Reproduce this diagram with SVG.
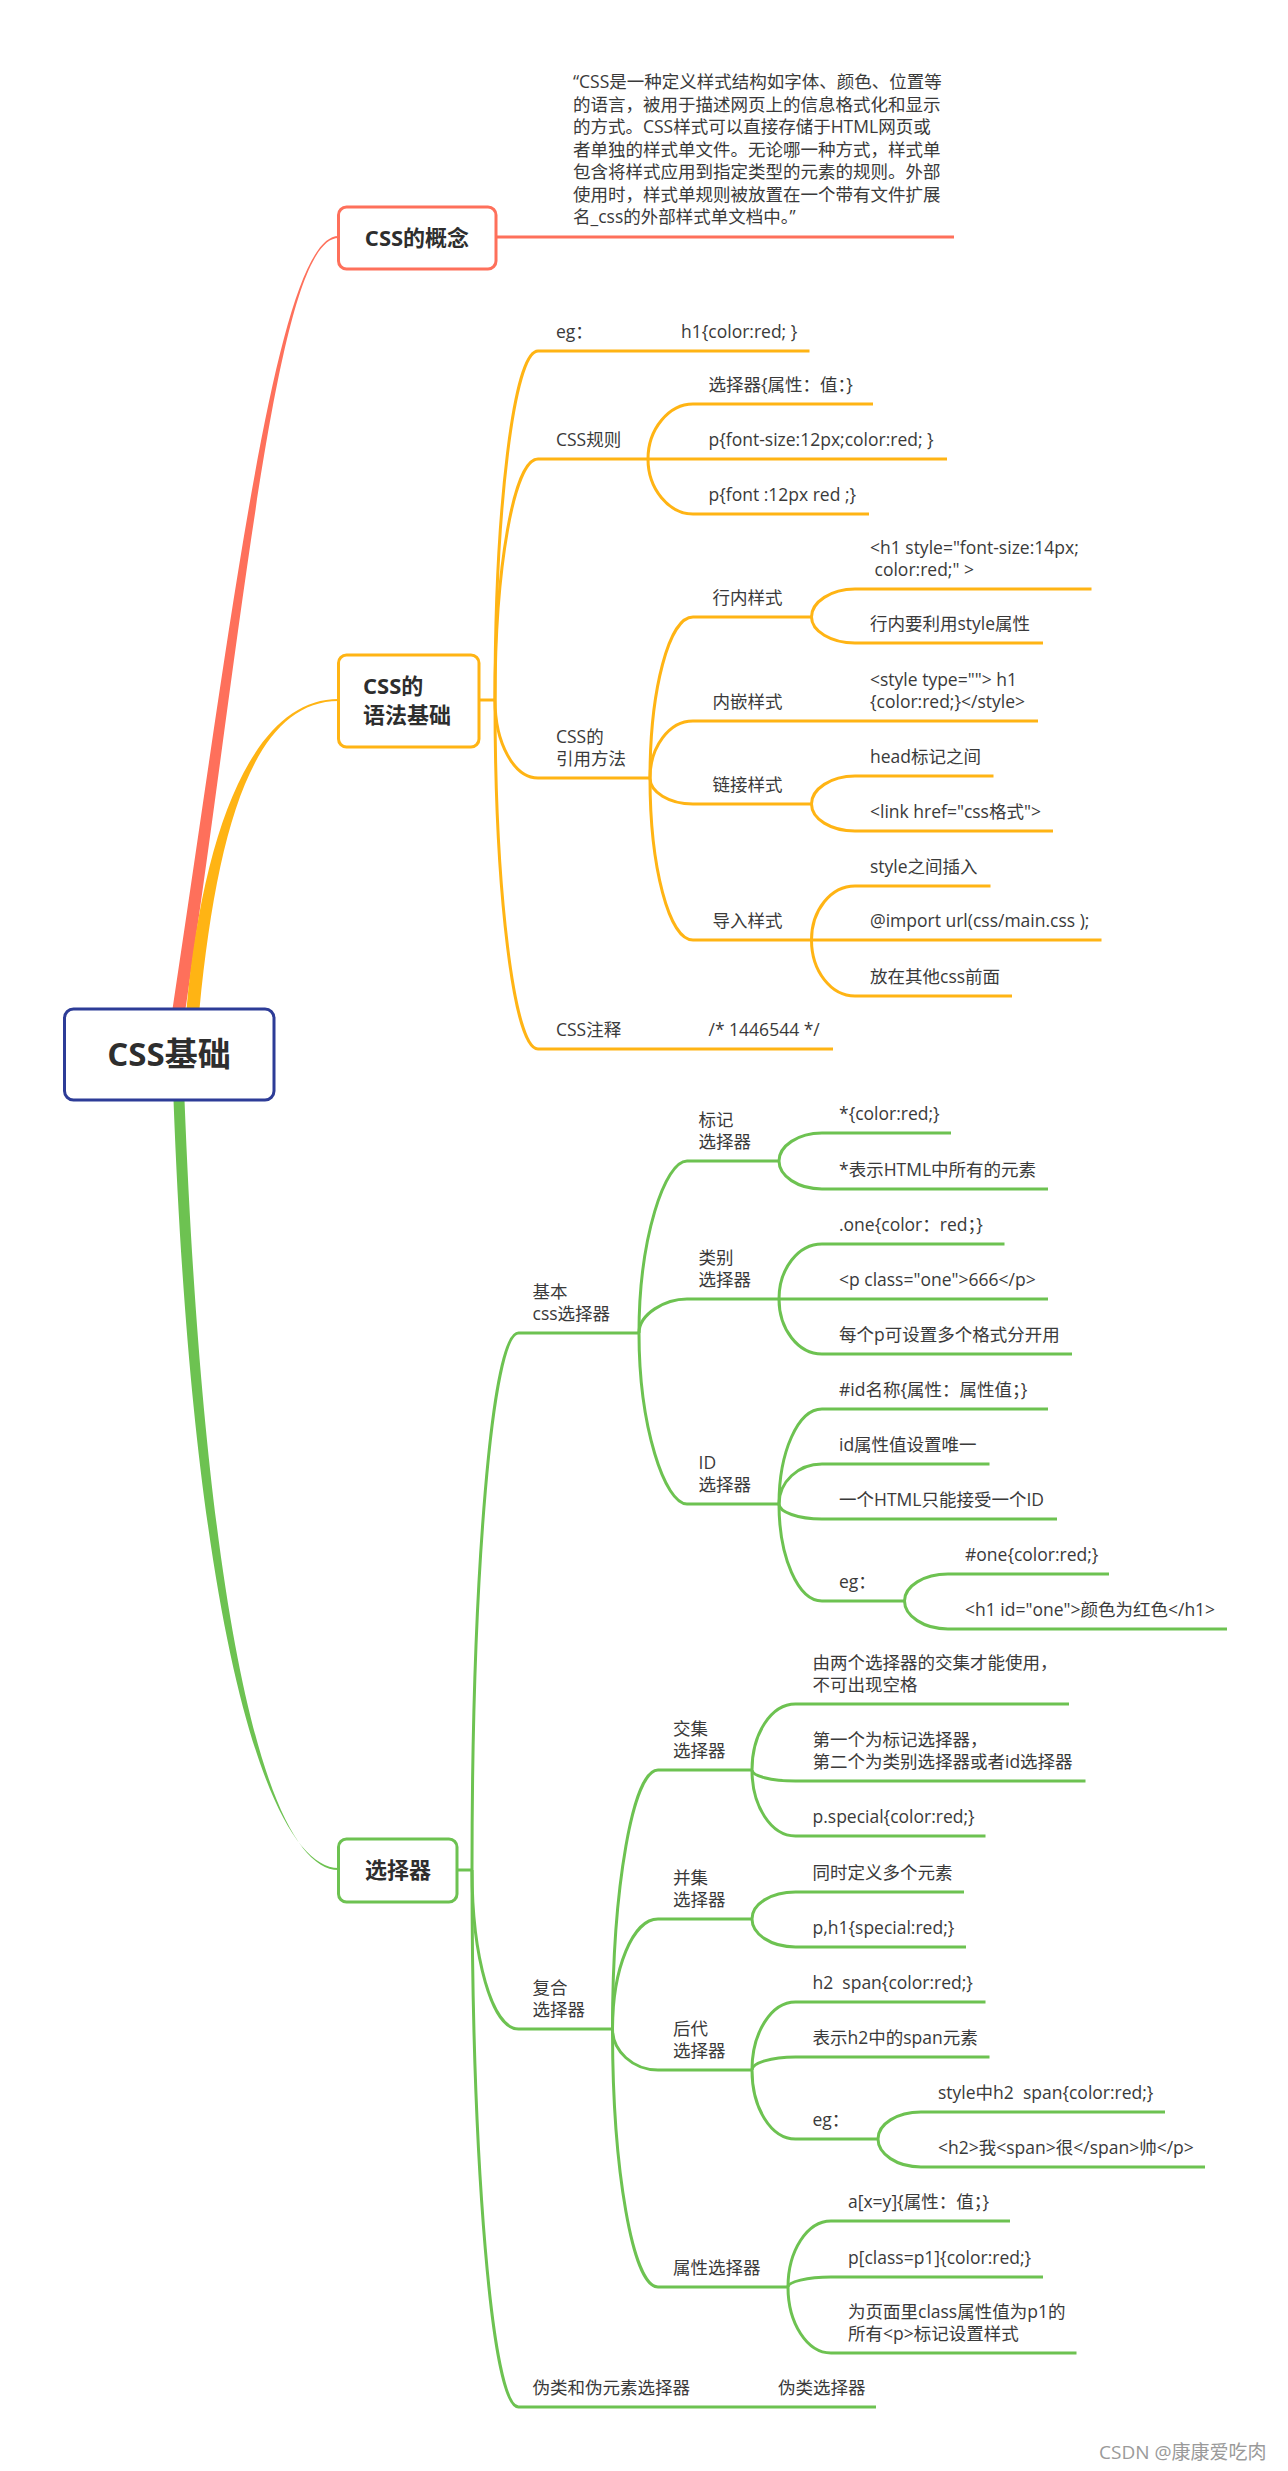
<svg xmlns="http://www.w3.org/2000/svg" width="1288" height="2471" viewBox="0 0 1288 2471">
<style>
text{font-family:"Open Sans","Noto Sans CJK SC",sans-serif;fill:#3a3a3a;white-space:pre}
.t{font-size:17.5px}
.b{font-size:22px;font-weight:bold;fill:#2e2e2e}
.root{font-size:33px;font-weight:bold;fill:#2e2e2e}
.box{fill:#fff;stroke-width:3}
.r{stroke:#FE705B}
.o{stroke:#FFB414}
.g{stroke:#6DC251}
.ln{fill:none;stroke-width:3}
.wm{font-size:19px;fill:#9a9a9a}
</style>
<rect width="1288" height="2471" fill="#fff"/>
<g id="connectors">
  <path d="M172.5 1009 C233 609 277 236 338.5 236 L338.5 238 C277 238 245 609 185.5 1009 Z" fill="#FE705B"/>
  <path d="M186.5 1009 C203 830 253 699 338.5 699 L338.5 701 C253 701 217 830 199.5 1009 Z" fill="#FFB414"/>
  <path d="M173.5 1100 C194 1650 272 1868 338.5 1868 L338.5 1870 C272 1870 206 1650 184.5 1100 Z" fill="#6DC251"/>
  <path class="ln r" d="M496 237 H954" stroke-width="3.5"/>
  <g class="ln o">
    <path d="M479 700 H495"/>
    <path d="M495 700 C495 508 514 351 538 351 H809.5"/>
    <path d="M495 700 C495 568 514 459 538 459 H947"/>
    <path d="M495 700 C495 743 514 778 538 778 H650"/>
    <path d="M495 700 C495 892 514 1049 538 1049 H833"/>
    <path d="M648 459 C648 429 669 404 693 404 H873"/>
    <path d="M648 459 C648 489 669 514 693 514 H869"/>
    <path d="M650 778 C650 690 669 617 693 617 H811.5"/>
    <path d="M650 778 C650 747 669 721 693 721 H1038"/>
    <path d="M650 778 C650 792 669 804 693 804 H811.5"/>
    <path d="M650 778 C650 867 669 940 693 940 H811.5"/>
    <path d="M811.5 617 C811.5 602 831 589 855 589 H1091.5"/>
    <path d="M811.5 617 C811.5 631 831 643 855 643 H1043"/>
    <path d="M811.5 804 C811.5 789 831 776 855 776 H993.5"/>
    <path d="M811.5 804 C811.5 819 831 831 855 831 H1053"/>
    <path d="M811.5 940 C811.5 910 831 886 855 886 H990.5"/>
    <path d="M811.5 940 H1101.5"/>
    <path d="M811.5 940 C811.5 971 831 996 855 996 H1012"/>
  </g>
  <g class="ln g">
    <path d="M457 1870 H472"/>
    <path d="M472 1870 C472 1575 492 1333 518.5 1333 H639"/>
    <path d="M472 1870 C472 1957 492 2029 518.5 2029 H612.5"/>
    <path d="M472 1870 C472 2165 492 2407 518.5 2407 H876"/>
    <path d="M639 1333 C639 1238 665 1161 687 1161 H779"/>
    <path d="M639 1333 C639 1314 665 1299 687 1299 H779"/>
    <path d="M639 1333 C639 1427 665 1504 687 1504 H779"/>
    <path d="M779 1161 C779 1146 798 1133 822 1133 H951"/>
    <path d="M779 1161 C779 1176 798 1189 822 1189 H1048"/>
    <path d="M779 1299 C779 1269 798 1244 822 1244 H1004.5"/>
    <path d="M779 1299 H1048"/>
    <path d="M779 1299 C779 1329 798 1354 822 1354 H1072"/>
    <path d="M779 1504 C779 1452 798 1409 822 1409 H1048"/>
    <path d="M779 1504 C779 1482 798 1464 822 1464 H989.5"/>
    <path d="M779 1504 C779 1512 798 1519 822 1519 H1057"/>
    <path d="M779 1504 C779 1557 798 1601 822 1601 H904.5"/>
    <path d="M904.5 1601 C904.5 1586 924 1574 948 1574 H1109"/>
    <path d="M904.5 1601 C904.5 1616 924 1629 948 1629 H1227"/>
    <path d="M612.5 2029 C612.5 1887 633 1770 658 1770 H752"/>
    <path d="M612.5 2029 C612.5 1968 633 1919 658 1919 H752"/>
    <path d="M612.5 2029 C612.5 2051 633 2070 658 2070 H752"/>
    <path d="M612.5 2029 C612.5 2171 633 2287 658 2287 H788"/>
    <path d="M752 1770 C752 1734 771 1704 795.5 1704 H1069"/>
    <path d="M752 1770 C752 1776 771 1781 795.5 1781 H1085.5"/>
    <path d="M752 1770 C752 1806 771 1836 795.5 1836 H985.5"/>
    <path d="M752 1919 C752 1904 771 1892 795.5 1892 H964"/>
    <path d="M752 1919 C752 1934 771 1947 795.5 1947 H966"/>
    <path d="M752 2070 C752 2033 771 2002 795.5 2002 H985.5"/>
    <path d="M752 2070 C752 2063 771 2057 795.5 2057 H989.5"/>
    <path d="M752 2070 C752 2108 771 2139 795.5 2139 H878"/>
    <path d="M878 2139 C878 2124 897 2112 921 2112 H1165"/>
    <path d="M878 2139 C878 2154 897 2167 921 2167 H1205"/>
    <path d="M788 2287 C788 2251 807 2221 831 2221 H1010"/>
    <path d="M788 2287 C788 2282 807 2277 831 2277 H1043"/>
    <path d="M788 2287 C788 2323 807 2353 831 2353 H1076.5"/>
  </g>
</g>
<g id="root">
  <rect class="box" x="64.5" y="1009" width="209.5" height="91" rx="9" stroke="#2D3C97"/>
  <text class="root" x="169" y="1066" text-anchor="middle">CSS基础</text>
</g>
<g id="concept">
  <rect class="box r" x="338.5" y="207" width="157.5" height="62" rx="8"/>
  <text class="b" x="417" y="246" text-anchor="middle">CSS的概念</text>
</g>
<g id="concept-desc">
  <text class="t" x="573" y="88">“CSS是一种定义样式结构如字体、颜色、位置等</text>
  <text class="t" x="573" y="110.5">的语言，被用于描述网页上的信息格式化和显示</text>
  <text class="t" x="573" y="133">的方式。CSS样式可以直接存储于HTML网页或</text>
  <text class="t" x="573" y="155.5">者单独的样式单文件。无论哪一种方式，样式单</text>
  <text class="t" x="573" y="178">包含将样式应用到指定类型的元素的规则。外部</text>
  <text class="t" x="573" y="200.5">使用时，样式单规则被放置在一个带有文件扩展</text>
  <text class="t" x="573" y="223">名_css的外部样式单文档中。”</text>
</g>
<g id="syntax">
  <rect class="box o" x="338.5" y="655" width="140.5" height="92" rx="8"/>
  <text class="b" x="363" y="694">CSS的</text>
  <text class="b" x="363" y="723">语法基础</text>
</g>
<g id="syntax-eg"><text class="t" x="556" y="338">eg：</text><text class="t" x="681" y="338">h1{color:red; }</text></g>
<g id="css-rule"><text class="t" x="556" y="446">CSS规则</text></g>
<g id="rule-1"><text class="t" x="708.5" y="391">选择器{属性：值：}</text></g>
<g id="rule-2"><text class="t" x="708.5" y="446">p{font-size:12px;color:red; }</text></g>
<g id="rule-3"><text class="t" x="708.5" y="501">p{font :12px red ;}</text></g>
<g id="ref"><text class="t" x="556" y="742.5">CSS的</text><text class="t" x="556" y="765">引用方法</text></g>
<g id="inline"><text class="t" x="712.5" y="604">行内样式</text></g>
<g id="inline-1"><text class="t" x="870" y="553.5">&lt;h1 style="font-size:14px;</text><text class="t" x="870" y="576"> color:red;" &gt;</text></g>
<g id="inline-2"><text class="t" x="870" y="630">行内要利用style属性</text></g>
<g id="embed"><text class="t" x="712.5" y="708">内嵌样式</text></g>
<g id="embed-1"><text class="t" x="870" y="686">&lt;style type=""&gt; h1</text><text class="t" x="870" y="708">{color:red;}&lt;/style&gt;</text></g>
<g id="link"><text class="t" x="712.5" y="791">链接样式</text></g>
<g id="link-1"><text class="t" x="870" y="763">head标记之间</text></g>
<g id="link-2"><text class="t" x="870" y="818">&lt;link href="css格式"&gt;</text></g>
<g id="import"><text class="t" x="712.5" y="927">导入样式</text></g>
<g id="import-1"><text class="t" x="870" y="873">style之间插入</text></g>
<g id="import-2"><text class="t" x="870" y="927">@import url(css/main.css );</text></g>
<g id="import-3"><text class="t" x="870" y="983">放在其他css前面</text></g>
<g id="comment"><text class="t" x="556" y="1036">CSS注释</text><text class="t" x="708.5" y="1036">/* 1446544 */</text></g>
<g id="selector">
  <rect class="box g" x="338.5" y="1839" width="118.5" height="63" rx="8"/>
  <text class="b" x="398" y="1878" text-anchor="middle">选择器</text>
</g>
<g id="basic"><text class="t" x="532.5" y="1297.5">基本</text><text class="t" x="532.5" y="1320">css选择器</text></g>
<g id="tag"><text class="t" x="698.5" y="1125.5">标记</text><text class="t" x="698.5" y="1148">选择器</text></g>
<g id="tag-1"><text class="t" x="839" y="1120">*{color:red;}</text></g>
<g id="tag-2"><text class="t" x="839" y="1176">*表示HTML中所有的元素</text></g>
<g id="class"><text class="t" x="698.5" y="1263.5">类别</text><text class="t" x="698.5" y="1286">选择器</text></g>
<g id="class-1"><text class="t" x="839" y="1231">.one{color：red；}</text></g>
<g id="class-2"><text class="t" x="839" y="1286">&lt;p class="one"&gt;666&lt;/p&gt;</text></g>
<g id="class-3"><text class="t" x="839" y="1341">每个p可设置多个格式分开用</text></g>
<g id="id"><text class="t" x="698.5" y="1468.5">ID</text><text class="t" x="698.5" y="1491">选择器</text></g>
<g id="id-1"><text class="t" x="839" y="1396">#id名称{属性：属性值；}</text></g>
<g id="id-2"><text class="t" x="839" y="1451">id属性值设置唯一</text></g>
<g id="id-3"><text class="t" x="839" y="1506">一个HTML只能接受一个ID</text></g>
<g id="id-eg"><text class="t" x="839" y="1588">eg：</text></g>
<g id="id-eg-1"><text class="t" x="965" y="1561">#one{color:red;}</text></g>
<g id="id-eg-2"><text class="t" x="965" y="1616">&lt;h1 id="one"&gt;颜色为红色&lt;/h1&gt;</text></g>
<g id="compound"><text class="t" x="532.5" y="1993.5">复合</text><text class="t" x="532.5" y="2016">选择器</text></g>
<g id="inter"><text class="t" x="673" y="1734.5">交集</text><text class="t" x="673" y="1757">选择器</text></g>
<g id="inter-1"><text class="t" x="812.5" y="1668.5">由两个选择器的交集才能使用，</text><text class="t" x="812.5" y="1691">不可出现空格</text></g>
<g id="inter-2"><text class="t" x="812.5" y="1745.5">第一个为标记选择器，</text><text class="t" x="812.5" y="1768">第二个为类别选择器或者id选择器</text></g>
<g id="inter-3"><text class="t" x="812.5" y="1823">p.special{color:red;}</text></g>
<g id="union"><text class="t" x="673" y="1883.5">并集</text><text class="t" x="673" y="1906">选择器</text></g>
<g id="union-1"><text class="t" x="812.5" y="1879">同时定义多个元素</text></g>
<g id="union-2"><text class="t" x="812.5" y="1934">p,h1{special:red;}</text></g>
<g id="desc"><text class="t" x="673" y="2034.5">后代</text><text class="t" x="673" y="2057">选择器</text></g>
<g id="desc-1"><text class="t" x="812.5" y="1989">h2  span{color:red;}</text></g>
<g id="desc-2"><text class="t" x="812.5" y="2044">表示h2中的span元素</text></g>
<g id="desc-eg"><text class="t" x="812.5" y="2126">eg：</text></g>
<g id="desc-eg-1"><text class="t" x="938" y="2099">style中h2  span{color:red;}</text></g>
<g id="desc-eg-2"><text class="t" x="938" y="2154">&lt;h2&gt;我&lt;span&gt;很&lt;/span&gt;帅&lt;/p&gt;</text></g>
<g id="attr"><text class="t" x="673" y="2274">属性选择器</text></g>
<g id="attr-1"><text class="t" x="848" y="2208">a[x=y]{属性：值；}</text></g>
<g id="attr-2"><text class="t" x="848" y="2264">p[class=p1]{color:red;}</text></g>
<g id="attr-3"><text class="t" x="848" y="2317.5">为页面里class属性值为p1的</text><text class="t" x="848" y="2340">所有&lt;p&gt;标记设置样式</text></g>
<g id="pseudo"><text class="t" x="532.5" y="2394">伪类和伪元素选择器</text><text class="t" x="778" y="2394">伪类选择器</text></g>
<text class="wm" x="1099" y="2459">CSDN @康康爱吃肉</text>
</svg>
